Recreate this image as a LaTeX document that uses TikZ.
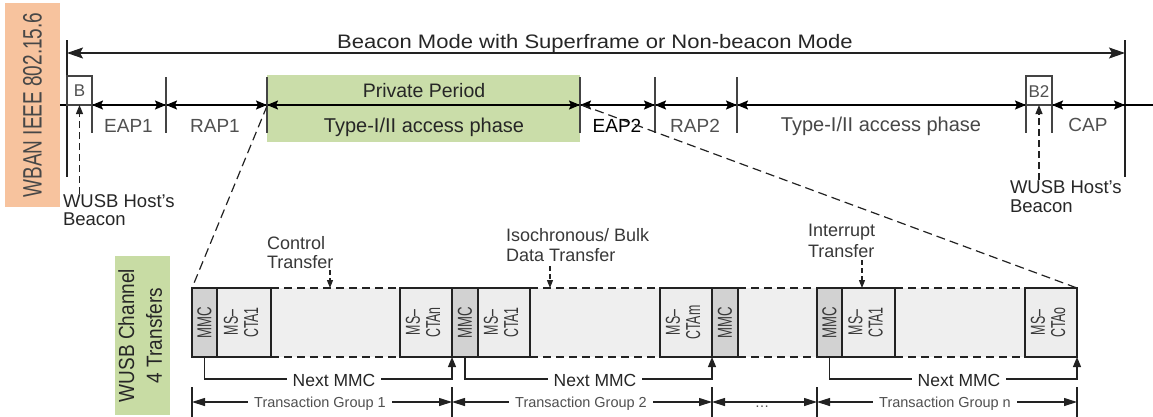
\documentclass[tikz,border=0pt]{standalone}
\usepackage{fontspec}
\usepackage{graphicx}
\setmainfont{Liberation Sans}
\usetikzlibrary{arrows.meta}
\newcommand{\fsz}[2]{\fontsize{#1pt}{#2pt}\selectfont}
\newcommand{\mmctext}{\rotatebox{90}{\fsz{15.5}{16}\scalebox{0.85}[1.3]{MMC}}}
\newcommand{\ctatext}[1]{\rotatebox{90}{\fsz{15.5}{15.5}\scalebox{0.8}[1.3]{\def\arraystretch{1}\begin{tabular}{@{}c@{}}MS–\\#1\end{tabular}}}}
\definecolor{orangebg}{HTML}{F7C39E}
\definecolor{greenbg}{HTML}{CADDA9}
\definecolor{greenbg2}{HTML}{C8DCA4}
\definecolor{bandbg}{HTML}{EFEFEF}
\definecolor{ctafill}{HTML}{EDEDED}
\definecolor{mmcfill}{HTML}{D2D2D2}
\definecolor{lblgray}{HTML}{505050}
\definecolor{darktxt}{HTML}{262626}
\definecolor{linecol}{HTML}{222222}
\definecolor{tickcol}{HTML}{444444}
\definecolor{celltxt}{HTML}{383838}
\begin{document}
\begin{tikzpicture}[x=1pt,y=-1pt,
  every node/.style={inner sep=0pt, outer sep=0pt},
  lbl/.style={font=\fsz{19}{22}, text=lblgray},
  wl/.style={font=\fsz{18.5}{21}, text=darktxt},
  ll/.style={font=\fsz{18}{21}, text=celltxt},
  tick/.style={draw=tickcol, line width=1.2pt},
  bigv/.style={draw=linecol, line width=2pt},
  tarr/.style={draw=black, line width=1.6pt, {Stealth[length=11pt,width=9pt,inset=2pt]}-{Stealth[length=11pt,width=9pt,inset=2pt]}},
  toparr/.style={draw=linecol, line width=1.2pt, {Stealth[length=16pt,width=11pt,inset=3pt]}-{Stealth[length=16pt,width=11pt,inset=3pt]}},
  dasharr/.style={draw=linecol, line width=1.1pt, dash pattern=on 7pt off 4pt, -{Triangle[length=9pt,width=7pt]}},
  zoomdash/.style={draw=linecol, line width=1.2pt, dash pattern=on 9pt off 5pt},
  banddash/.style={draw=linecol, line width=1.1pt, dash pattern=on 8pt off 5pt},
  cell/.style={draw=linecol, line width=1.1pt, minimum height=69pt, fill=ctafill, text=celltxt},
  mmc/.style={cell, fill=mmcfill},
  nextl/.style={draw=linecol, line width=1.1pt, -{Triangle[length=10pt,width=8pt]}},
  nmlbl/.style={font=\fsz{17.5}{20}, text=darktxt, fill=white, inner xsep=6pt, inner ysep=2pt},
  gtick/.style={draw=linecol, line width=1.1pt},
  garr/.style={draw=linecol, line width=1.1pt, {Triangle[length=13pt,width=8pt]}-{Triangle[length=13pt,width=8pt]}},
  glbl/.style={font=\fsz{14.5}{17}, text=lblgray, fill=white, inner xsep=6pt, inner ysep=2pt},
  smallarr/.style={draw=linecol, line width=1.1pt, dash pattern=on 5pt off 3pt, -{Triangle[length=8pt,width=6pt]}}
]
\useasboundingbox (0,0) rectangle (1153,416);

% ---------- side labels ----------
\node[fill=orangebg, minimum width=55pt, minimum height=204pt] (wban) at (32.5,105)
  {\rotatebox{90}{\fsz{19}{22}\color{darktxt!85}\scalebox{1}[1.4]{WBAN IEEE 802.15.6}}};
\node[fill=greenbg2, minimum width=55pt, minimum height=159pt] (wusb) at (142.5,335.5)
  {\rotatebox{90}{\fsz{19}{24}\color{darktxt}\scalebox{1}[1.15]{\begin{tabular}{@{}c@{}}WUSB Channel\\4 Transfers\end{tabular}}}};

% ---------- top section ----------
\node[fill=greenbg, minimum width=313pt, minimum height=67pt] (priv) at (423.5,108.5) {};

\coordinate (vl) at (67,53);
\coordinate (vr) at (1125,53);
\draw[bigv] (67,40) -- (67,177);
\draw[bigv] (1125,40) -- (1125,177);
\draw[toparr] (vl) -- (vr);
\node[font=\fsz{19.5}{22}, text=darktxt, anchor=base] (title) at (595,48)
  {\scalebox{1.13}[1]{Beacon Mode with Superframe or Non-beacon Mode}};

% timeline
\coordinate (tls) at (60,105);
\coordinate (tle) at (1153,105);
\draw[draw=black, line width=1.6pt] (tls) -- (tle);

\node[draw=tickcol, line width=1.2pt, minimum width=25pt, minimum height=29pt] (bbox) at (79.5,90.5) {};
\node[font=\fsz{17}{20}, text=lblgray, anchor=base] (btxt) at (79.5,96) {B};
\node[draw=tickcol, line width=1.2pt, minimum width=26pt, minimum height=29pt] (b2) at (1039,90.5) {};
\node[font=\fsz{17}{20}, text=lblgray, anchor=base] (b2txt) at (1039,97) {B2};

\coordinate (t1) at (92,105);
\coordinate (t2) at (166,105);
\coordinate (t3) at (267,105);
\coordinate (t4) at (580,105);
\coordinate (t5) at (655,105);
\coordinate (t6) at (737,105);
\coordinate (t7) at (1026,105);
\coordinate (t8) at (1052,105);
\coordinate (t9) at (1125,105);

\draw[tick] (bbox.north east) -- ++(0,57);
\draw[tick] (b2.north west) -- ++(0,57);
\draw[tick] (b2.north east) -- ++(0,57);
\foreach \t in {t2,t3,t4,t5,t6} { \draw[tick] (\t) ++(0,-28) -- ++(0,56); }

\draw[tarr] (t1) -- (t2);
\draw[tarr] (t2) -- (t3);
\draw[tarr] (t3) -- (t4);
\draw[tarr] (t4) -- (t5);
\draw[tarr] (t5) -- (t6);
\draw[tarr] (t6) -- (t7);
\draw[tarr] (t8) -- (t9);

\node[lbl, anchor=base] (eap1) at (128.5,132) {EAP1};
\node[lbl, anchor=base] (rap1) at (215,132) {RAP1};
\node[lbl, anchor=base, text=darktxt, font=\fsz{19.5}{22}] (pp) at (424,97) {Private Period};
\node[lbl, anchor=base, text=darktxt, font=\fsz{20}{22}] (ta1) at (424,132) {Type-I/II access phase};
\node[lbl, anchor=base, text=black] (eap2) at (617,132) {EAP2};
\node[lbl, anchor=base] (rap2) at (695,132) {RAP2};
\node[lbl, anchor=base, text=darktxt!85, font=\fsz{20}{22}] (ta2) at (881,131) {Type-I/II access phase};
\node[lbl, anchor=base] (cap) at (1088,131) {CAP};

\node[wl, anchor=base west] (lw1) at (63,207) {WUSB Host’s};
\node[wl, anchor=base west] (lw2) at (63,225) {Beacon};
\node[wl, anchor=base west] (rw1) at (1010,193) {WUSB Host’s};
\node[wl, anchor=base west] (rw2) at (1010,212) {Beacon};
\draw[dasharr] (lw1.north -| bbox.south) -- (bbox.south);
\draw[dasharr] (rw1.north -| b2.south) -- (b2.south);

% ---------- lower band ----------
\fill[bandbg] (192,288) rectangle (1077,357);
\node[mmc, minimum width=25pt] (m1) at (204.5,322.5) {\mmctext};
\node[cell, minimum width=54pt] (c1) at (244,322.5) {\ctatext{CTA1}};
\node[cell, minimum width=52pt] (cn) at (426,322.5) {\ctatext{CTAn}};
\node[mmc, minimum width=26pt] (m2) at (465,322.5) {\mmctext};
\node[cell, minimum width=52pt] (c2) at (504,322.5) {\ctatext{CTA1}};
\node[cell, minimum width=52pt] (cm) at (686,322.5) {\ctatext{CTAm}};
\node[mmc, minimum width=26pt] (m3) at (725,322.5) {\mmctext};
\node[mmc, minimum width=25pt] (m4) at (829.5,322.5) {\mmctext};
\node[cell, minimum width=53pt] (c3) at (868.5,322.5) {\ctatext{CTA1}};
\node[cell, minimum width=52pt] (co) at (1051,322.5) {\ctatext{CTAo}};

\draw[banddash] (c1.north east) -- (cn.north west);
\draw[banddash] (c1.south east) -- (cn.south west);
\draw[banddash] (c2.north east) -- (cm.north west);
\draw[banddash] (c2.south east) -- (cm.south west);
\draw[banddash] (m3.north east) -- (m4.north west);
\draw[banddash] (m3.south east) -- (m4.south west);
\draw[banddash] (c3.north east) -- (co.north west);
\draw[banddash] (c3.south east) -- (co.south west);

% zoom lines
\coordinate (zl) at (267,106);
\coordinate (zr) at (582,105);
\draw[zoomdash] (zl) -- (m1.north west);
\draw[zoomdash] (zr) -- (co.north east);

% transfer labels
\node[ll, anchor=base west] (ct1) at (267,249) {Control};
\node[ll, anchor=base west] (ct2) at (267,268) {Transfer};
\coordinate (cta) at (330,270);
\coordinate (ctb) at (330,288);
\draw[smallarr] (cta) -- (ctb);
\node[ll, anchor=base west] (is1) at (506,241) {Isochronous/ Bulk};
\node[ll, anchor=base west] (is2) at (506,261) {Data Transfer};
\coordinate (isa) at (550,266);
\coordinate (isb) at (550,288);
\draw[smallarr] (isa) -- (isb);
\node[ll, anchor=base west] (in1) at (808,236) {Interrupt};
\node[ll, anchor=base west] (in2) at (808,257) {Transfer};
\coordinate (ina) at (862,260);
\coordinate (inb) at (862,288);
\draw[smallarr] (ina) -- (inb);

% next MMC
\draw[nextl] (m1.south) -- ++(0,22) -| (m2.south west);
\draw[nextl] (m2.south) -- ++(0,22) -| (m3.south west);
\draw[nextl] (m4.south) -- ++(0,22) -| (co.south east);
\node[nmlbl, anchor=base] (nm1) at (334,386) {Next MMC};
\node[nmlbl, anchor=base] (nm2) at (595,386) {Next MMC};
\node[nmlbl, anchor=base] (nm3) at (959,386) {Next MMC};

% transaction groups
\coordinate (g0) at (192,402);
\coordinate (g1) at (452,402);
\coordinate (g2) at (712,402);
\coordinate (g3) at (817,402);
\coordinate (g4) at (1077,402);
\foreach \g in {g0,g1,g2,g3,g4} { \draw[gtick] (\g) ++(0,-15) -- ++(0,31); }
\draw[garr] (g0) -- (g1);
\draw[garr] (g1) -- (g2);
\draw[garr] (g2) -- (g3);
\draw[garr] (g3) -- (g4);
\node[glbl, anchor=base] (tg1) at (320,407) {Transaction Group 1};
\node[glbl, anchor=base] (tg2) at (581,407) {Transaction Group 2};
\node[glbl, anchor=base] (tgd) at (762,407) {…};
\node[glbl, anchor=base] (tgn) at (945,407) {Transaction Group n};
\end{tikzpicture}
\end{document}
